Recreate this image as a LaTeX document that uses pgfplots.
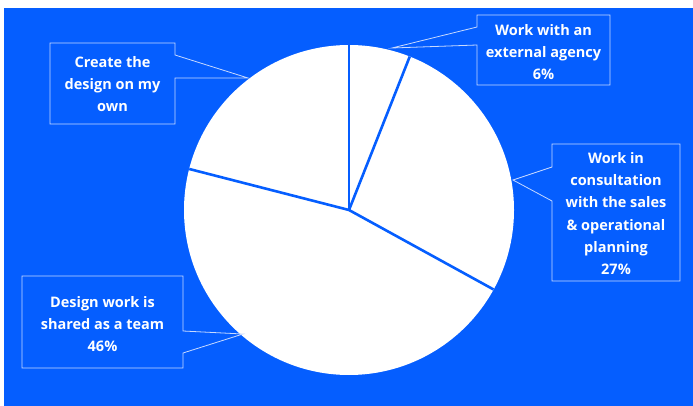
\documentclass[border=0pt]{standalone}
\usepackage{pgfplots}
\pgfplotsset{compat=1.18}
\usepackage{pgfplotstable}
\usepackage{fontspec}
\setmainfont{Open Sans}
\definecolor{bg}{RGB}{5,94,255}
\definecolor{boxline}{RGB}{200,218,255}

\pgfplotstableread{
share label
6 agency
27 consult
46 team
21 own
}\piedata
\pgfplotstablegetelem{0}{share}\of\piedata \let\vA\pgfplotsretval
\pgfplotstablegetelem{1}{share}\of\piedata \let\vB\pgfplotsretval
\pgfplotstablegetelem{2}{share}\of\piedata \let\vC\pgfplotsretval
\pgfmathsetmacro{\aA}{90}
\pgfmathsetmacro{\aB}{\aA-3.6*\vA}
\pgfmathsetmacro{\aC}{\aB-3.6*\vB}
\pgfmathsetmacro{\aD}{\aC-3.6*\vC}

\begin{document}
\begin{tikzpicture}
\begin{axis}[scale only axis, width=693pt, height=406pt,
  xmin=0, xmax=693, ymin=0, ymax=406, y dir=reverse,
  hide axis, clip=false]
\fill[white] (axis cs:0,0) rectangle (axis cs:693,406);
\fill[bg] (axis cs:4,8) rectangle (axis cs:693,406);
\fill[white] (axis cs:349,210) circle[radius=165pt];
\draw[bg, line width=2.6pt] (axis cs:349,210) -- ++(\aA:165pt);
\draw[bg, line width=2.6pt] (axis cs:349,210) -- ++(\aB:165pt);
\draw[bg, line width=2.6pt] (axis cs:349,210) -- ++(\aC:165pt);
\draw[bg, line width=2.6pt] (axis cs:349,210) -- ++(\aD:165pt);
% callouts
\draw[boxline, line width=0.8pt] (axis cs:50,43) -- (axis cs:175,43) -- (axis cs:175,55) -- (axis cs:248,78) -- (axis cs:175,78) -- (axis cs:175,124) -- (axis cs:50,124) -- cycle;
\draw[boxline, line width=0.8pt] (axis cs:477,15) -- (axis cs:610,15) -- (axis cs:610,85) -- (axis cs:477,85) -- (axis cs:477,45) -- (axis cs:392,48) -- (axis cs:477,27) -- cycle;
\draw[boxline, line width=0.8pt] (axis cs:552,144) -- (axis cs:680,144) -- (axis cs:680,281) -- (axis cs:552,281) -- (axis cs:552,201) -- (axis cs:513,180) -- (axis cs:552,167) -- cycle;
\draw[boxline, line width=0.8pt] (axis cs:22,276) -- (axis cs:183,276) -- (axis cs:183,331) -- (axis cs:243,334) -- (axis cs:183,353) -- (axis cs:183,368) -- (axis cs:22,368) -- cycle;
\tikzset{lbl/.style={text=white, font=\bfseries\fontsize{14.5}{22.3}\selectfont, align=center, inner sep=0pt}}
\node[lbl] at (axis cs:112.5,84) {Create the\\design on my\\own};
\node[lbl] at (axis cs:543.5,52) {Work with an\\external agency\\6\%};
\node[lbl] at (axis cs:616,213.5) {Work in\\consultation\\with the sales\\\& operational\\planning\\27\%};
\node[lbl] at (axis cs:102.5,324) {Design work is\\shared as a team\\46\%};
\end{axis}
\end{tikzpicture}
\end{document}
